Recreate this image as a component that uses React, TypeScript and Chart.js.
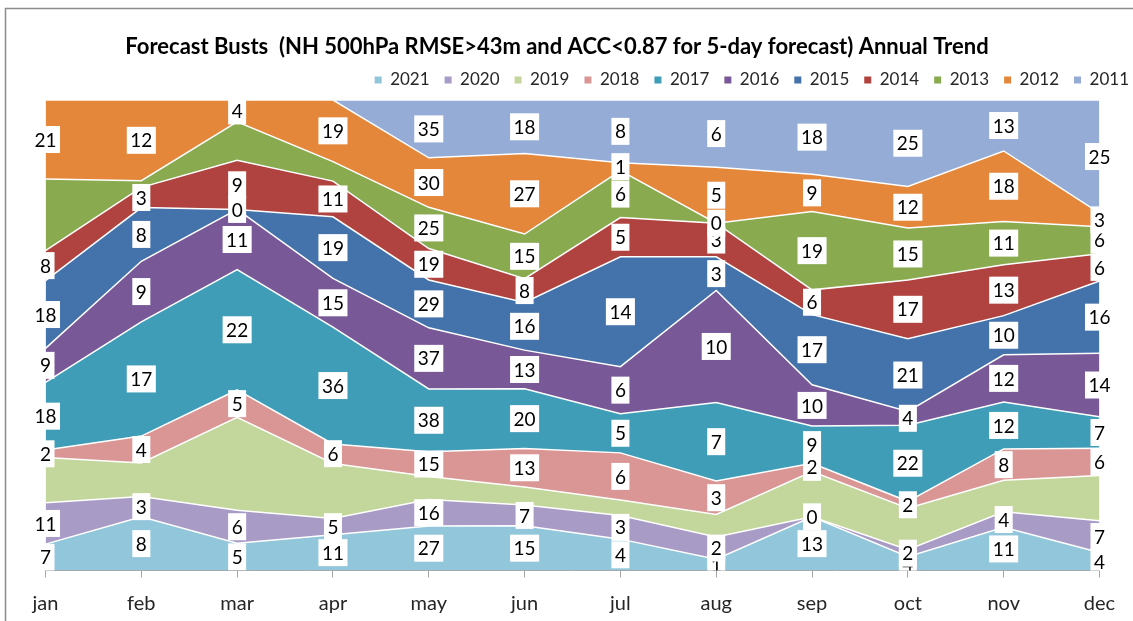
import React, { useEffect, useRef } from 'react';
import { Chart, registerables } from 'chart.js';

Chart.register(...registerables);

// ---- data ----
const months = ['jan', 'feb', 'mar', 'apr', 'may', 'jun', 'jul', 'aug', 'sep', 'oct', 'nov', 'dec'];
const years = ['2021', '2020', '2019', '2018', '2017', '2016', '2015', '2014', '2013', '2012', '2011'];

const v2021 = [7, 8, 5, 11, 27, 15, 4, 1, 13, 4, 11, 4];
const v2020 = [11, 3, 6, 5, 16, 7, 3, 2, 0, 2, 4, 7];
const v2019 = [12, 5, 17, 17, 14, 6, 2, 2, 11, 12, 8, 10];
const v2018 = [2, 4, 5, 6, 15, 13, 6, 3, 2, 2, 8, 6];
const v2017 = [18, 17, 22, 36, 38, 20, 5, 7, 9, 22, 12, 7];
const v2016 = [9, 9, 11, 15, 37, 13, 6, 10, 10, 4, 12, 14];
const v2015 = [18, 8, 0, 19, 29, 16, 14, 3, 17, 21, 10, 16];
const v2014 = [8, 3, 9, 11, 19, 8, 5, 3, 6, 17, 13, 6];
const v2013 = [19, 1, 7, 6, 25, 15, 6, 0, 19, 15, 11, 6];
const v2012 = [21, 12, 4, 19, 30, 27, 1, 5, 9, 12, 18, 3];
const v2011 = [0, 0, 0, 0, 35, 18, 8, 6, 18, 25, 13, 25];

const seriesValues = [v2021, v2020, v2019, v2018, v2017, v2016, v2015, v2014, v2013, v2012, v2011];

// months (index) whose data label is not shown in the original
const hiddenLabels: Record<string, number[]> = {
  '2019': [0, 1, 2, 3, 4, 5, 6, 7, 8, 9, 10, 11],
  '2013': [0, 1, 2, 3],
  '2011': [0, 1, 2, 3],
};

const titleText = 'Forecast Busts  (NH 500hPa RMSE>43m and ACC<0.87 for 5-day forecast) Annual Trend';

// ---- styles ----
const colors = [
  '#92C6DA', '#A89BC6', '#C3D69B', '#DA9694', '#409DB8', '#785897',
  '#4472AA', '#B0423F', '#8AAA50', '#E4873A', '#94ACD6',
];
const FONT = 'Lato, "Open Sans", sans-serif';

export default function App() {
  const ref = useRef<HTMLCanvasElement>(null);

  useEffect(() => {
    const totals = months.map((_, j) => seriesValues.reduce((s, arr) => s + arr[j], 0));
    const pct = seriesValues.map((arr) => arr.map((v, j) => (v / totals[j]) * 100));
    const cum = pct.map((_, i) => months.map((__, j) => pct.slice(0, i + 1).reduce((s, a) => s + a[j], 0)));

    const framePlugin = {
      id: 'frame',
      beforeDraw(chart: any) {
        const ctx = chart.ctx;
        ctx.save();
        ctx.fillStyle = '#ffffff';
        ctx.fillRect(0, 0, chart.width, chart.height);
        ctx.strokeStyle = '#8c8c8c';
        ctx.lineWidth = 1.5;
        ctx.beginPath();
        ctx.moveTo(5.5, chart.height);
        ctx.lineTo(5.5, 8.5);
        ctx.lineTo(chart.width, 8.5);
        ctx.stroke();
        ctx.restore();
      },
    };

    const adjustPlugin = {
      id: 'adjust',
      afterLayout(chart: any) {
        const lg = chart.legend;
        if (lg) {
          lg.right = 1144;
          lg.top = 56.5;
        }
        const tb = chart.titleBlock;
        if (tb) {
          tb.left -= 15.5;
          tb.right -= 15.5;
        }
      },
    };

    const labelPlugin = {
      id: 'valueLabels',
      afterDatasetsDraw(chart: any) {
        const ctx = chart.ctx;
        const xs = chart.scales.x;
        const ys = chart.scales.y;
        const area = chart.chartArea;
        ctx.save();
        ctx.beginPath();
        ctx.rect(0, 0, chart.width, area.bottom);
        ctx.clip();
        ctx.font = `19px ${FONT}`;
        ctx.textAlign = 'center';
        ctx.textBaseline = 'middle';
        years.forEach((yr, i) => {
          const hidden = hiddenLabels[yr] || [];
          months.forEach((_, j) => {
            if (hidden.includes(j)) return;
            const text = String(seriesValues[i][j]);
            const x = xs.getPixelForValue(j);
            const yc = ys.getPixelForValue(cum[i][j] - pct[i][j] / 2);
            const w = ctx.measureText(text).width + 7;
            const h = 27;
            ctx.fillStyle = '#ffffff';
            ctx.fillRect(x - w / 2, yc - h / 2, w, h);
            ctx.fillStyle = '#000000';
            ctx.fillText(text, x, yc + 1);
          });
        });
        ctx.restore();
      },
    };

    const chart = new Chart(ref.current as HTMLCanvasElement, {
      type: 'line',
      data: {
        labels: months,
        datasets: years.map((y, i) => ({
          label: y,
          data: pct[i],
          backgroundColor: colors[i],
          borderColor: '#ffffff',
          borderWidth: 1.5,
          fill: i === 0 ? 'origin' : '-1',
          pointRadius: 0,
          pointHoverRadius: 0,
          tension: 0,
        })),
      },
      options: {
        responsive: false,
        animation: false,
        events: [],
        layout: { padding: { left: 45.5, right: 33.5, top: 0, bottom: -8.5 } },
        scales: {
          x: {
            type: 'category',
            offset: false,
            z: 1,
            border: { display: true, color: '#a6a6a6', width: 1 },
            grid: { display: true, drawOnChartArea: false, drawTicks: true, tickLength: 7, tickColor: '#a6a6a6' },
            ticks: { color: '#262626', font: { family: FONT, size: 20 }, padding: 14, maxRotation: 0, autoSkip: false },
          },
          y: {
            display: false,
            stacked: true,
            min: 0,
            max: 100,
          },
        },
        plugins: {
          tooltip: { enabled: false },
          title: {
            display: true,
            text: titleText,
            color: '#000000',
            font: { family: FONT, size: 22, weight: 'bold', lineHeight: 1 },
            padding: { top: 36, bottom: 0 },
          },
          legend: {
            display: true,
            position: 'top',
            align: 'end',
            labels: {
              color: '#262626',
              font: { family: FONT, size: 17 },
              boxWidth: 7,
              boxHeight: 7,
              padding: 15,
              generateLabels: (c: any) =>
                Chart.defaults.plugins.legend.labels.generateLabels(c).map((l: any) => ({
                  ...l,
                  lineWidth: 0,
                  strokeStyle: l.fillStyle,
                })),
            },
          },
        },
      } as any,
      plugins: [framePlugin, labelPlugin, adjustPlugin],
    });
    return () => chart.destroy();
  }, []);

  return (
    <div style={{ position: 'fixed', left: 0, top: 0, width: 1133, height: 621, background: '#ffffff' }}>
      <canvas ref={ref} width={1133} height={621} style={{ display: 'block' }} />
    </div>
  );
}
